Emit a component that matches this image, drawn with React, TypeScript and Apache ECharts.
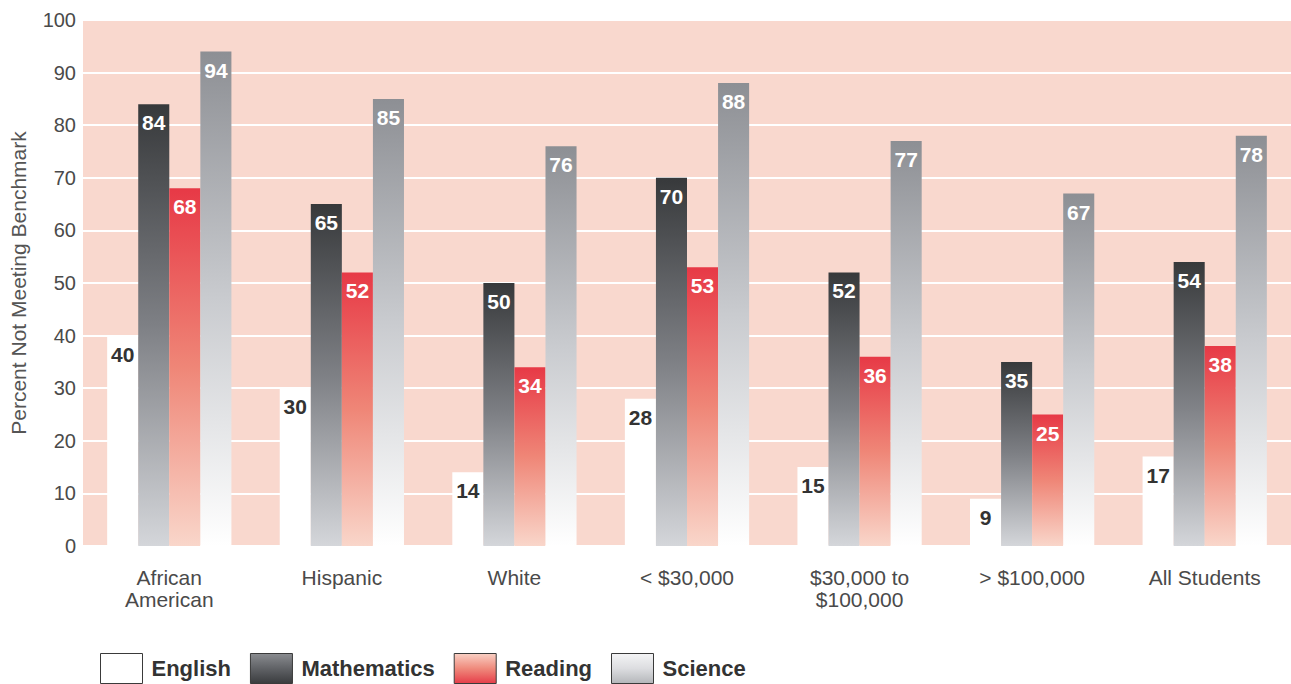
import React, { useEffect, useRef } from "react";
import * as echarts from "echarts";

const categories = ["African\nAmerican", "Hispanic", "White", "< $30,000", "$30,000 to\n$100,000", "> $100,000", "All Students"];
const english = [40, 30, 14, 28, 15, 9, 17];
const mathematics = [84, 65, 50, 70, 52, 35, 54];
const reading = [68, 52, 34, 53, 36, 25, 38];
const science = [94, 85, 76, 88, 77, 67, 78];

const grad = (top: string, mid: string, bottom: string) =>
  new echarts.graphic.LinearGradient(0, 0, 0, 1, [
    { offset: 0, color: top },
    { offset: 0.5, color: mid },
    { offset: 1, color: bottom },
  ]);

export default function App() {
  const ref = useRef<HTMLDivElement>(null);
  useEffect(() => {
    document.body.style.margin = "0";
    const chart = echarts.init(ref.current!, null, { renderer: "svg" });
    const font = "Liberation Sans, Arial, Helvetica, sans-serif";
    const label = (color: string) => ({
      show: true,
      position: "insideTop" as const,
      distance: 8,
      color,
      fontSize: 21,
      fontWeight: "bold" as const,
      fontFamily: font,
    });
    const base = { type: "bar" as const, barGap: "0%", barCategoryGap: "28%" };
    chart.setOption({
      animation: false,
      textStyle: { fontFamily: font },
      grid: {
        left: 82,
        right: 0,
        top: 20,
        bottom: 138,
        show: true,
        backgroundColor: "#f9d8ce",
        borderWidth: 0,
      },
      legend: {
        left: 100,
        top: 653,
        padding: 0,
        itemWidth: 42,
        itemHeight: 30,
        itemGap: 19,
        icon: "rect",
        itemStyle: { borderColor: "#3a3a3a", borderWidth: 1 },
        textStyle: { fontSize: 22, fontWeight: "bold", color: "#333", fontFamily: font, padding: [0, 0, 0, 4] },
        data: [
          { name: "English", itemStyle: { color: "#ffffff" } },
          { name: "Mathematics", itemStyle: { color: grad("#8a8c90", "#606266", "#3a3c3e") } },
          { name: "Reading", itemStyle: { color: grad("#f9d0c4", "#ef8a7c", "#e63d49") } },
          { name: "Science", itemStyle: { color: grad("#f4f4f6", "#dcdde0", "#b4b6ba") } },
        ],
      },
      xAxis: {
        type: "category",
        data: categories,
        axisLine: { show: false },
        axisTick: { show: false },
        axisLabel: { fontSize: 21, color: "#4a4a4a", lineHeight: 22, margin: 20, interval: 0 },
      },
      yAxis: {
        type: "value",
        min: 0,
        max: 100,
        interval: 10,
        name: "Percent Not Meeting Benchmark",
        nameLocation: "middle",
        nameGap: 54,
        nameTextStyle: { fontSize: 21, color: "#555" },
        axisLine: { show: false },
        axisTick: { show: false },
        axisLabel: { fontSize: 20, color: "#4a4a4a", margin: 7 },
        splitLine: { lineStyle: { color: "#ffffff", width: 2 } },
      },
      series: [
        { ...base, name: "English", data: english, itemStyle: { color: "#ffffff" }, label: label("#333333") },
        {
          ...base,
          name: "Mathematics",
          data: mathematics,
          itemStyle: { color: grad("#37393b", "#7e8085", "#d4d6da") },
          label: label("#ffffff"),
        },
        {
          ...base,
          name: "Reading",
          data: reading,
          itemStyle: { color: grad("#e73946", "#ef8677", "#f9d6ca") },
          label: label("#ffffff"),
        },
        {
          ...base,
          name: "Science",
          data: science,
          itemStyle: { color: grad("#8d8f94", "#c9cbcf", "#ffffff") },
          label: label("#ffffff"),
        },
      ],
    });
    return () => chart.dispose();
  }, []);
  return <div ref={ref} style={{ position: "absolute", left: 0, top: 0, width: 1291, height: 684 }} />;
}
